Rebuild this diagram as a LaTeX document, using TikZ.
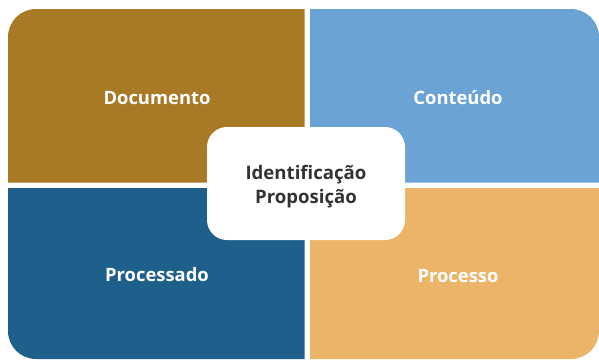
\documentclass[tikz,border=0pt]{standalone}
\usepackage{fontspec}
\setmainfont{Open Sans}
\definecolor{cgold}{HTML}{A87A25}
\definecolor{cblue}{HTML}{6BA3D6}
\definecolor{cnavy}{HTML}{1E5F8C}
\definecolor{corange}{HTML}{EBB468}
\definecolor{ctext}{HTML}{333333}
\begin{document}
\begin{tikzpicture}[x=1pt,y=-1pt,
  lbl/.style={font=\fontsize{18.4}{20}\selectfont\bfseries, text=white}]
\useasboundingbox (0,0) rectangle (599,360);
% top-left
\fill[cgold] (8,182.7) -- (8,37) arc[start angle=180,end angle=270,radius=28] -- (304.7,9) -- (304.7,182.7) -- cycle;
% top-right
\fill[cblue] (310,9) -- (571,9) arc[start angle=270,end angle=360,radius=28] -- (599,182.7) -- (310,182.7) -- cycle;
% bottom-left
\fill[cnavy] (8,188) -- (304.7,188) -- (304.7,359) -- (36,359) arc[start angle=90,end angle=180,radius=28] -- cycle;
% bottom-right
\fill[corange] (310,188) -- (599,188) -- (599,331) arc[start angle=0,end angle=90,radius=28] -- (310,359) -- cycle;
\node[lbl] (doc) at (157,98) {Documento};
\node[lbl] (con) at (458,98) {Conteúdo};
\node[lbl] (pra) at (157,275) {Processado};
\node[lbl] (pro) at (458,276) {Processo};
\node[fill=white, rounded corners=20pt, minimum width=198pt, minimum height=113pt, inner sep=0pt] (ctr) at (306,183.5) {};
\node[align=center, text=ctext, font=\fontsize{18.6}{24}\selectfont\bfseries] (ctxt) at (306,187) {Identificação\\Proposição};
\end{tikzpicture}
\end{document}
